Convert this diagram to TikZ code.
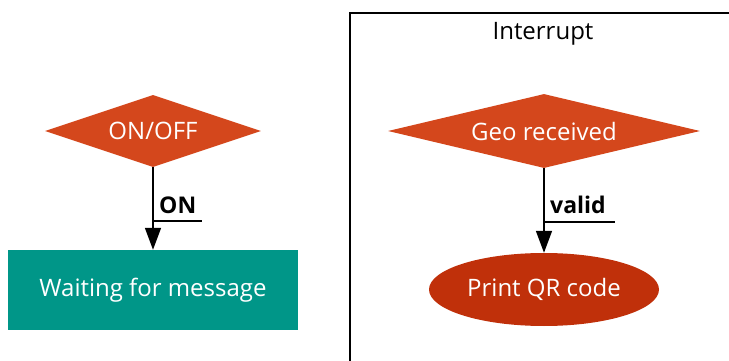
\documentclass[tikz,border=0pt]{standalone}
\usepackage{fontspec}
\setmainfont{Open Sans}
\usetikzlibrary{shapes.geometric,arrows.meta}
\definecolor{dorange}{HTML}{D4471C}
\definecolor{rorange}{HTML}{C0300A}
\definecolor{teal}{HTML}{009688}
\tikzset{
  bigfont/.style={font=\fontsize{24}{28}\selectfont},
  decision/.style={diamond, fill=dorange, draw=none, inner sep=0pt, text=white, bigfont},
  process/.style={rectangle, fill=teal, draw=none, inner sep=0pt, text=white, bigfont},
  terminal/.style={ellipse, fill=rorange, draw=none, inner sep=0pt, text=white, bigfont},
  flow/.style={draw=black, line width=1.6pt, -{Triangle[length=22pt,width=16pt]}},
  edgelabel/.style={font=\bfseries\fontsize{23}{26}\selectfont, inner sep=0pt, anchor=base west},
  uline/.style={draw=black, line width=1.4pt},
  cluster/.style={draw=black, line width=2pt}
}
\begin{document}
\begin{tikzpicture}[x=1pt,y=-1pt]
\useasboundingbox (0,0) rectangle (729,361);
\begin{scope}
\clip (0,0) rectangle (729,361);
\draw[cluster] (350,13) rectangle (760,400);
\end{scope}
\node[bigfont, inner sep=0pt, anchor=base] (title) at (543,40) {Interrupt};

\node[decision, aspect=3, minimum width=216pt, minimum height=72pt] (onoff) at (153,131) {ON/OFF};
\node[process, minimum width=290pt, minimum height=80pt] (wait) at (153,290) {Waiting for message};
\draw[flow] (onoff.south) -- (wait.north);
\node[edgelabel] (lon) at (159,213) {ON};
\coordinate (uon) at (153,221);
\draw[uline] (uon) -- (uon -| lon.south east) -- ++(6,0);

\node[decision, aspect=4.2, minimum width=312pt, minimum height=74pt] (geo) at (544,131) {Geo received};
\node[terminal, minimum width=230pt, minimum height=73pt] (qr) at (544,289.5) {Print QR code};
\draw[flow] (geo.south) -- (qr.north);
\node[edgelabel] (lvalid) at (550,213) {valid};
\coordinate (uvalid) at (544,222);
\draw[uline] (uvalid) -- (uvalid -| lvalid.south east) -- ++(9,0);
\end{tikzpicture}
\end{document}
